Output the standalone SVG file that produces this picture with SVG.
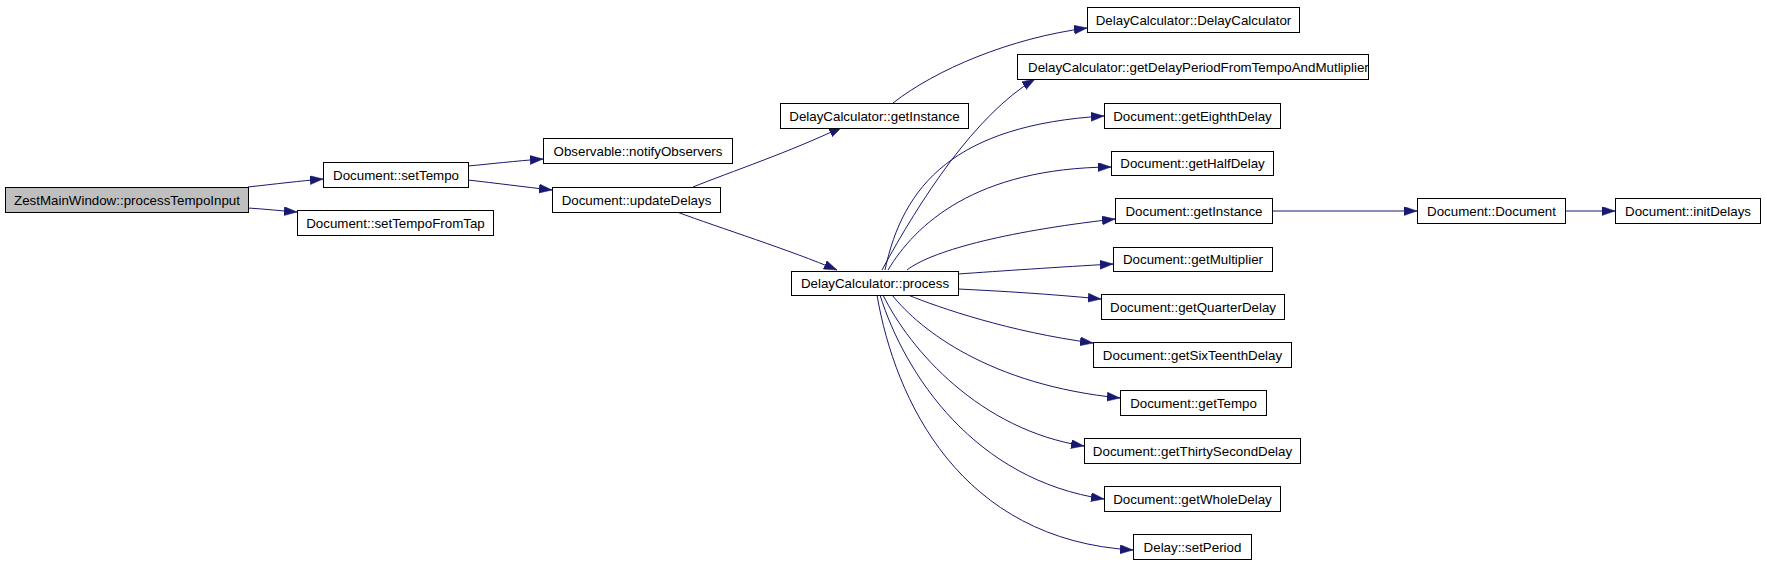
<svg xmlns="http://www.w3.org/2000/svg" width="1765" height="563" viewBox="0 0 1765 563">
<style>
.n rect{fill:#fff;stroke:#000;stroke-width:1}
.n.root rect{fill:#bfbfbf}
.n text{font-family:"Liberation Sans",Arial,Helvetica,sans-serif;font-size:13.33px;fill:#000;text-anchor:middle}
.e path{fill:none;stroke:#191970;stroke-width:1;marker-end:url(#arr)}
</style>
<defs>
<marker id="arr" markerUnits="userSpaceOnUse" markerWidth="14" markerHeight="10" refX="13" refY="4.5" orient="auto">
<path d="M0,0 L13,4.5 L0,9 z" fill="#191970" stroke="#191970" stroke-width="0.5"/>
</marker>
</defs>
<rect width="1765" height="563" fill="#fff"/>
<g id="connectors" class="e">
<path d="M248,187 C275,184 300,181 323,179"/>
<path d="M248,208 C265,209 282,211 297,212"/>
<path d="M468,166 C490,164 515,161 543,159"/>
<path d="M468,180 C495,183 525,187 552,190"/>
<path d="M693,187 C730,172 790,152 842,127"/>
<path d="M677,212 C720,228 790,250 837,270"/>
<path d="M893,103 C935,70 1010,38 1087,28"/>
<path d="M882,270 C920,200 975,115 1035,79"/>
<path d="M885,270 C903,185 955,125 1104,116"/>
<path d="M888,270 C915,225 975,168 1111,167"/>
<path d="M907,270 C930,252 1000,232 1115,219"/>
<path d="M958,274 C1000,271 1060,267 1113,264"/>
<path d="M958,289 C1000,291 1050,294 1101,299"/>
<path d="M908,295 C940,308 1010,332 1093,343"/>
<path d="M892,295 C920,330 990,385 1120,398"/>
<path d="M883,295 C910,350 980,430 1084,446"/>
<path d="M880,295 C905,375 975,480 1104,499"/>
<path d="M877,295 C895,400 960,540 1133,550"/>
<path d="M1272,211 L1417,211"/>
<path d="M1565,211 L1615,211"/>
</g>
<g id="zest_processTempoInput" class="n root"><rect x="5.5" y="187.5" width="243" height="25"/><text x="127" y="204.5">ZestMainWindow::processTempoInput</text></g>
<g id="doc_setTempo" class="n"><rect x="323.5" y="162.5" width="145" height="25"/><text x="396" y="179.5">Document::setTempo</text></g>
<g id="doc_setTempoFromTap" class="n"><rect x="297.5" y="210.5" width="196" height="25"/><text x="395.5" y="227.5">Document::setTempoFromTap</text></g>
<g id="obs_notifyObservers" class="n"><rect x="543.5" y="138.5" width="189" height="25"/><text x="638" y="155.5">Observable::notifyObservers</text></g>
<g id="doc_updateDelays" class="n"><rect x="552.5" y="187.5" width="168" height="25"/><text x="636.5" y="204.5">Document::updateDelays</text></g>
<g id="dc_getInstance" class="n"><rect x="780.5" y="103.5" width="188" height="25"/><text x="874.5" y="120.5">DelayCalculator::getInstance</text></g>
<g id="dc_process" class="n"><rect x="791.5" y="271.5" width="167" height="24"/><text x="875" y="288">DelayCalculator::process</text></g>
<g id="dc_ctor" class="n"><rect x="1087.5" y="7.5" width="212" height="25"/><text x="1193.5" y="24.5">DelayCalculator::DelayCalculator</text></g>
<g id="dc_getDelayPeriod" class="n"><rect x="1017.5" y="54.5" width="351" height="25"/><text x="1028" y="71.5" style="text-anchor:start">DelayCalculator::getDelayPeriodFromTempoAndMutliplier</text></g>
<g id="doc_getEighthDelay" class="n"><rect x="1104.5" y="103.5" width="176" height="25"/><text x="1192.5" y="120.5">Document::getEighthDelay</text></g>
<g id="doc_getHalfDelay" class="n"><rect x="1111.5" y="151.5" width="162" height="24"/><text x="1192.5" y="168">Document::getHalfDelay</text></g>
<g id="doc_getInstance" class="n"><rect x="1115.5" y="198.5" width="157" height="25"/><text x="1194" y="215.5">Document::getInstance</text></g>
<g id="doc_getMultiplier" class="n"><rect x="1113.5" y="247.5" width="159" height="24"/><text x="1193" y="264">Document::getMultiplier</text></g>
<g id="doc_getQuarterDelay" class="n"><rect x="1101.5" y="294.5" width="183" height="25"/><text x="1193" y="311.5">Document::getQuarterDelay</text></g>
<g id="doc_getSixTeenthDelay" class="n"><rect x="1093.5" y="342.5" width="198" height="25"/><text x="1192.5" y="359.5">Document::getSixTeenthDelay</text></g>
<g id="doc_getTempo" class="n"><rect x="1120.5" y="390.5" width="146" height="25"/><text x="1193.5" y="407.5">Document::getTempo</text></g>
<g id="doc_getThirtySecondDelay" class="n"><rect x="1084.5" y="438.5" width="216" height="25"/><text x="1192.5" y="455.5">Document::getThirtySecondDelay</text></g>
<g id="doc_getWholeDelay" class="n"><rect x="1104.5" y="486.5" width="176" height="25"/><text x="1192.5" y="503.5">Document::getWholeDelay</text></g>
<g id="delay_setPeriod" class="n"><rect x="1133.5" y="534.5" width="118" height="25"/><text x="1192.5" y="551.5">Delay::setPeriod</text></g>
<g id="doc_Document" class="n"><rect x="1417.5" y="198.5" width="148" height="25"/><text x="1491.5" y="215.5">Document::Document</text></g>
<g id="doc_initDelays" class="n"><rect x="1615.5" y="198.5" width="145" height="25"/><text x="1688" y="215.5">Document::initDelays</text></g>
</svg>
